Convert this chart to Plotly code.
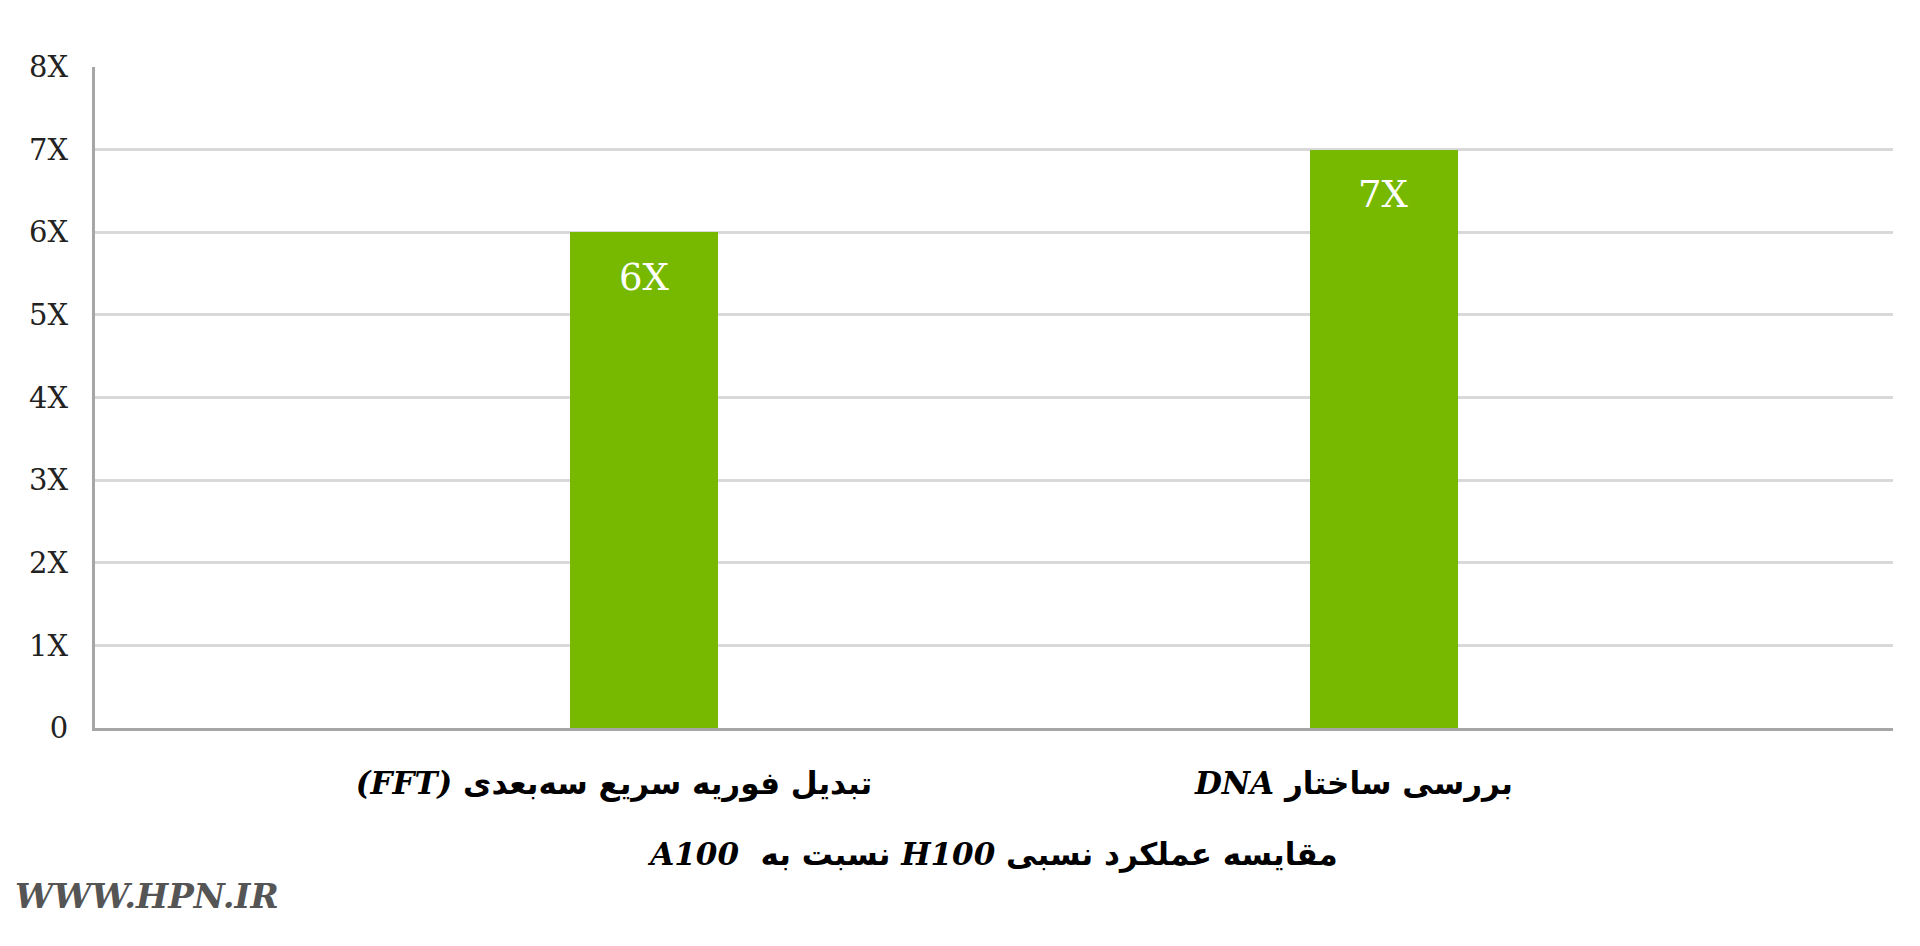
import plotly.graph_objects as go

# Data
cat_fa = ["تبدیل فوریه سریع سه‌بعدی", "بررسی ساختار"]
cat_en = ["(FFT)", "DNA"]
speedup = [6, 7]
y_ticks = [0, 1, 2, 3, 4, 5, 6, 7, 8]
y_tick_labels = ["0", "1X", "2X", "3X", "4X", "5X", "6X", "7X", "8X"]

GREEN = "#76b900"
SERIF = "DejaVu Serif"
PERSIAN = "DejaVu Sans"

RLE = "\u202b"   # force right-to-left layout of mixed text


def latin(s):
    return f"<span style='font-family:{SERIF}'><i>{s}</i></span>"


categories = [f"<b>{RLE}{fa} {latin(en)}</b>" for fa, en in zip(cat_fa, cat_en)]
x_title = "<b>" + RLE + "مقایسه عملکرد نسبی " + latin("H100") + " نسبت به  " + latin("A100") + "</b>"

# page has an 8px body margin, so the figure is drawn 8px to the right/down
OFF = 8
W, H = 1920 - OFF, 946 - OFF
L, T = 95 - OFF, 67 - OFF
B = H - (728 - OFF)
R = W - (1893 - OFF)

fig = go.Figure()
fig.add_trace(go.Bar(
    x=categories,
    y=speedup,
    marker=dict(color=GREEN, line=dict(width=0)),
    width=0.2,
    hoverinfo="skip",
))

# value labels inside the bars, a bit below the top
for cat, val in zip(categories, speedup):
    fig.add_annotation(
        x=cat, y=val, xref="x", yref="y",
        text=f"{val}X", showarrow=False,
        yanchor="middle", yshift=-45,
        font=dict(family=SERIF, size=37, color="white"),
    )

plot_w = W - L - R
plot_h = H - T - B

# watermark
fig.add_annotation(
    x=(13 - OFF - L) / plot_w, y=(H - B - (896 - OFF)) / plot_h,
    xref="paper", yref="paper",
    text="<b><i>WWW.HPN.IR</i></b>", showarrow=False,
    xanchor="left", yanchor="middle",
    font=dict(family=SERIF, size=34, color="#555555"),
)

fig.update_layout(
    width=W, height=H,
    margin=dict(l=L, r=R, t=T, b=B),
    plot_bgcolor="white", paper_bgcolor="white",
    showlegend=False,
    bargap=0,
)

fig.update_xaxes(
    type="category",
    range=[-0.742, 1.688],
    showgrid=False,
    showline=True, linecolor="#a6a6a6", linewidth=3,
    ticks="",
    tickfont=dict(family=PERSIAN, size=31, color="black"),
    ticklabelstandoff=26,
    ticklabelshift=-30,
    title=dict(
        text=x_title,
        font=dict(family=PERSIAN, size=31, color="black"),
        standoff=43,
    ),
)

fig.update_yaxes(
    range=[0, 8],
    tickvals=y_ticks, ticktext=y_tick_labels,
    showgrid=True, gridcolor="#d9d9d9", gridwidth=3,
    showline=True, linecolor="#a6a6a6", linewidth=3,
    zeroline=False,
    ticks="",
    ticklabelstandoff=18,
    tickfont=dict(family=SERIF, size=29, color="#222222"),
)

fig.write_html("out.html")
